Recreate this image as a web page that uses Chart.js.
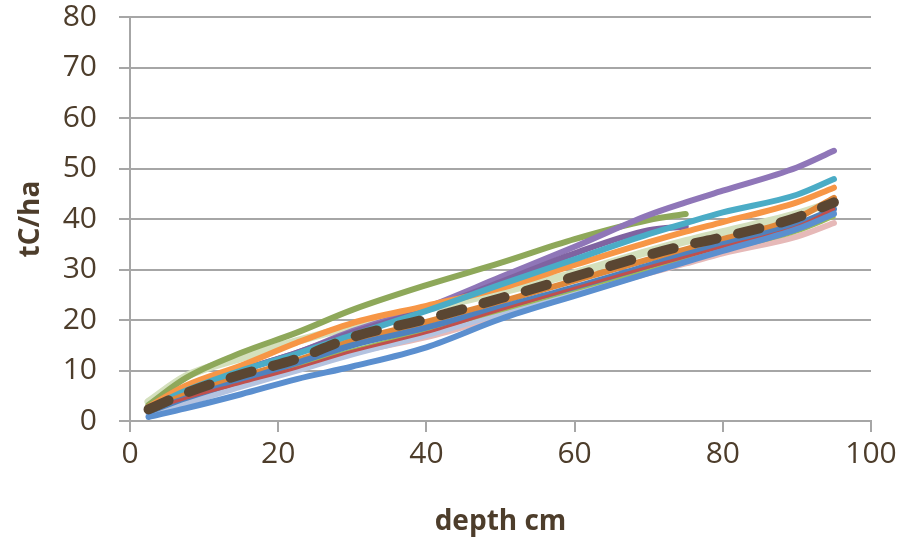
<!DOCTYPE html>
<html>
<head>
<meta charset="utf-8">
<script src="https://cdn.jsdelivr.net/npm/chart.js@4"></script>
<style>
  html, body { margin: 0; padding: 0; background: #fff; }
  #wrap { width: 914px; height: 545px; }
</style>
</head>
<body>
<div id="wrap"><canvas id="carbonChart"></canvas></div>
<script>
// depth (cm) of each sample point
const depths = [2.5, 7.5, 15, 22.5, 30, 40, 50, 60, 70, 75, 80, 90, 95];

// cumulative carbon stock, tC/ha, one array per profile
const meanProfile   = [2.3, 5.5, 9.2, 12.3, 16.6, 20.2, 24.3, 28.6, 32.9, 34.8, 36.4, 40.3, 43.3];
const blueLow       = [0.8, 2.5, 5.3, 8.3, 10.8, 14.6, 20.2, 24.8, 29.3, 31.5, 33.7, 38.0, 41.0];
const greenShort    = [3.2, 8.5, 13.5, 17.5, 22.0, 26.9, 31.3, 36.0, 39.8, 41.0, null, null, null];
const purpleLong    = [2.5, 6.0, 10.0, 13.5, 17.8, 22.5, 28.5, 34.5, 40.8, 43.3, 45.6, 50.2, 53.5];
const purpleShort   = [2.5, 6.0, 10.0, 13.5, 17.5, 22.0, 27.5, 33.2, 37.8, 38.5, null, null, null];
const cyanLine      = [2.5, 6.0, 10.0, 13.3, 17.0, 21.8, 27.0, 32.0, 37.0, 39.2, 41.3, 44.8, 47.9];
const orangeLight   = [2.8, 7.0, 11.0, 15.5, 19.4, 22.8, 26.3, 30.9, 35.4, 37.5, 39.4, 43.3, 46.2];
const greenLight    = [3.8, 8.8, 12.5, 15.8, 18.8, 22.2, 25.5, 29.3, 33.6, 35.6, 37.4, 41.0, 43.4];
const orangeDark    = [2.2, 5.2, 8.7, 12.0, 15.8, 19.6, 23.6, 27.8, 32.0, 34.0, 36.0, 40.2, 44.2];
const blueDark      = [1.8, 4.5, 8.0, 11.5, 15.0, 18.5, 22.5, 26.5, 30.8, 33.0, 35.0, 39.0, 42.0];
const redLine       = [2.0, 4.5, 7.5, 10.5, 13.8, 17.5, 22.0, 26.3, 30.5, 32.5, 34.5, 38.5, 42.0];
const blueLight     = [1.5, 3.5, 6.8, 10.0, 13.2, 17.0, 21.3, 25.8, 30.0, 32.0, 34.0, 38.0, 41.4];
const greenMid      = [2.0, 5.0, 8.0, 11.0, 14.0, 17.8, 21.8, 26.0, 30.0, 32.0, 33.8, 37.5, 40.4];
const pinkLine      = [2.0, 4.5, 7.8, 11.0, 13.6, 16.6, 20.8, 25.0, 29.3, 31.2, 33.2, 36.5, 39.2];

const xTicks = [0, 20, 40, 60, 80, 100];
const yTicks = [0, 10, 20, 30, 40, 50, 60, 70, 80];

const textColor = '#4d3d2b';
const gridColor = '#a6a6a6';

function pts(vals) {
  return depths.map((d, i) => ({ x: d, y: vals[i] }));
}

function series(label, vals, color, width) {
  return {
    label: label,
    data: pts(vals),
    borderColor: color,
    backgroundColor: color,
    borderWidth: width || 6,
    pointRadius: 0,
    tension: 0.4,
    cubicInterpolationMode: 'monotone',
    borderCapStyle: 'round',
    borderJoinStyle: 'round',
    spanGaps: false,
    fill: false
  };
}

const ctx = document.getElementById('carbonChart');

new Chart(ctx, {
  type: 'line',
  data: {
    datasets: [
      // first dataset is painted last (on top)
      Object.assign(series('mean', meanProfile, '#5a4632', 10), { borderDash: [22, 22] }),
      series('p1', blueLow, '#5b8fcf'),
      series('p2', redLine, '#c0504d', 3),
      series('p3', blueDark, '#4f81bd'),
      series('p4', orangeDark, '#e0883a'),
      series('p5', greenMid, '#9bbb59', 3.5),
      series('p6', blueLight, '#b4c3e0'),
      series('p7', pinkLine, '#e6b9b8'),
      series('p8', cyanLine, '#4bacc6'),
      series('p9', orangeLight, '#f79646'),
      series('p10', purpleShort, '#7f63a1'),
      series('p11', purpleLong, '#8f76b8'),
      series('p12', greenShort, '#8ea85a'),
      series('p13', greenLight, '#d4e0bd', 8)
    ]
  },
  options: {
    responsive: true,
    maintainAspectRatio: false,
    animation: false,
    layout: { padding: { left: 0, right: 43, top: 17, bottom: 0 } },
    plugins: {
      legend: { display: false },
      tooltip: { enabled: false }
    },
    scales: {
      x: {
        type: 'linear',
        min: 0,
        max: 100,
        afterBuildTicks: (s) => { s.ticks = xTicks.map(v => ({ value: v })); },
        afterFit: (s) => { s.height = 124; s.paddingLeft = 0; s.paddingRight = 0; },
        grid: { drawOnChartArea: false, color: gridColor, tickLength: 11, lineWidth: 2 },
        border: { color: gridColor, width: 2 },
        ticks: { color: textColor, font: { family: 'Open Sans', size: 30 }, padding: 4 },
        title: {
          display: true,
          text: 'depth cm',
          color: textColor,
          font: { family: 'Open Sans', size: 28, weight: 'bold' },
          padding: { top: 10, bottom: 6 }
        }
      },
      y: {
        min: 0,
        max: 80,
        afterBuildTicks: (s) => { s.ticks = yTicks.map(v => ({ value: v })); },
        afterFit: (s) => { s.width = 130; s.paddingTop = 0; s.paddingBottom = 0; },
        grid: { color: gridColor, tickLength: 11, lineWidth: 2 },
        border: { color: gridColor, width: 2 },
        ticks: { color: textColor, font: { family: 'Open Sans', size: 30 }, padding: 22 },
        title: {
          display: true,
          text: 'tC/ha',
          color: textColor,
          font: { family: 'Open Sans', size: 28, weight: 'bold' },
          padding: { top: 14, bottom: 6 }
        }
      }
    }
  }
});
</script>
</body>
</html>
